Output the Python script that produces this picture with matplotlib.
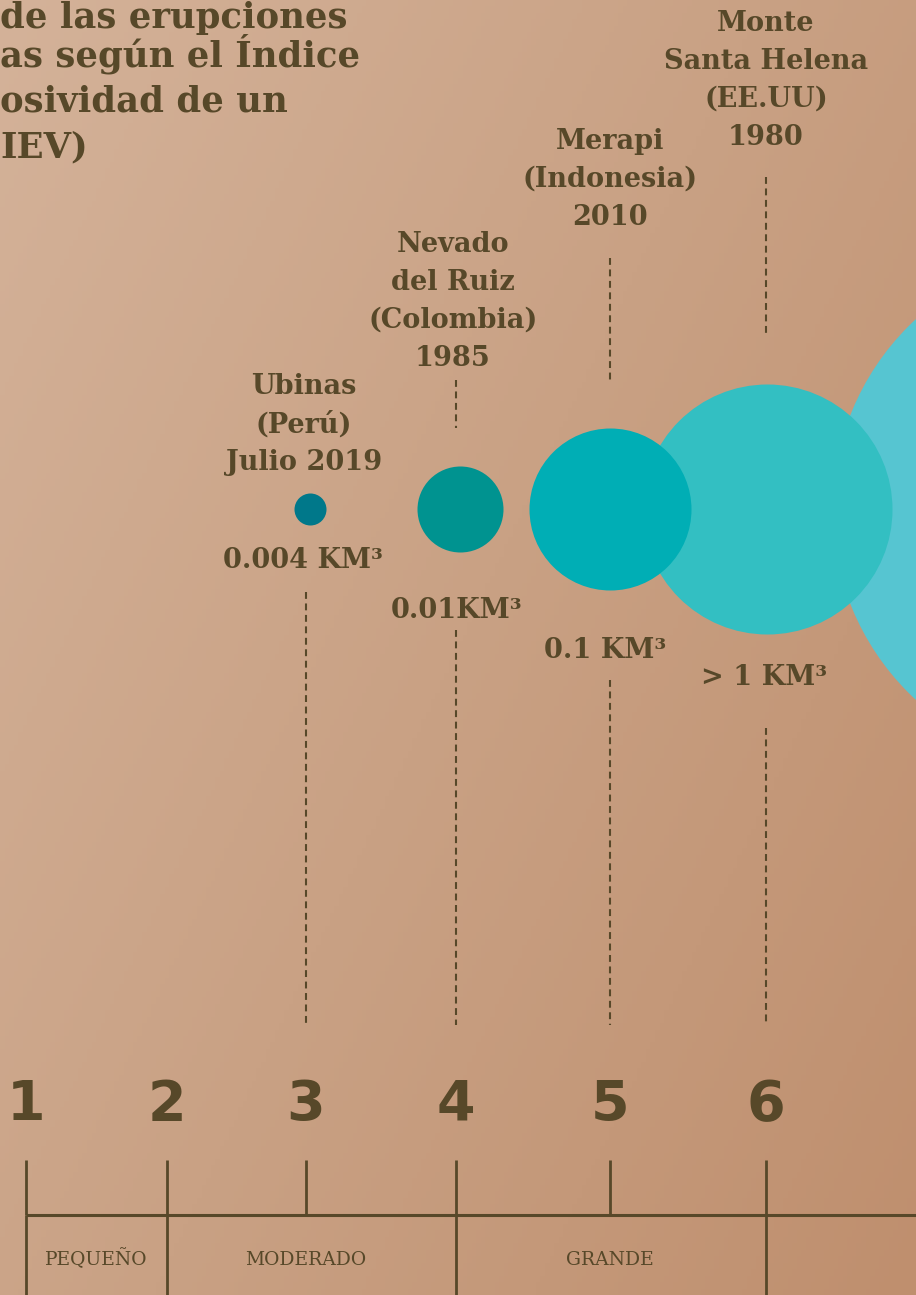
# Escala IEV de erupciones volcanicas, recreated on a kraft paper tone
import numpy as np
import matplotlib.pyplot as plt
from matplotlib.colors import LinearSegmentedColormap

# Data
iev_ticks = [1, 2, 3, 4, 5, 6]
tick_labels = ['1', '2', '3', '4', '5', '6']

categories = ['PEQUEÑO', 'MODERADO', 'GRANDE']
cat_start = [1, 2, 4]
cat_end = [2, 4, 6]

volcanoes = ['Ubinas\n(Perú)\nJulio 2019',
             'Nevado\ndel Ruiz\n(Colombia)\n1985',
             'Merapi\n(Indonesia)\n2010',
             'Monte\nSanta Helena\n(EE.UU)\n1980']
volcano_iev = [3, 4, 5, 6]
volumes = ['0.004 KM³', '0.01KM³', '0.1 KM³', '> 1 KM³']

bubble_iev = [3, 4, 5, 6, 7]

# visible part of the title (the page is cut on the left)
title_lines = ['de las erupciones',
               'as según el Índice',
               'osividad de un',
               'IEV)']

# Layout (page pixels; the IEV scale is not evenly spaced on the page)
tick_px = [26, 167, 306, 456, 610, 766]
bubble_r = [16, 43, 81, 125, 259]
bubble_dx = [4, 4, 0, 1, 169]
bubble_colors = ['#00788A', '#009390', '#00AEB5', '#33BFC2', '#56C5D1']
label_dx = [-2, -3, 0, 0]
label_top = [373, 231, 128, 10]
value_dx = [-3, 1, -5, -2]
value_base = [568, 618, 658, 685]
dash_top = [None, 380, 258, 177]
dash_bot = [None, 428, 382, 333]
low_top = [592, 630, 680, 728]
low_bot = 1025
title_base = [28, 66, 111, 157]

ink = '#574829'


def iev_to_px(v):
    v = np.asarray(v, dtype=float)
    out = np.interp(v, iev_ticks, tick_px)
    left = (tick_px[1] - tick_px[0]) / (iev_ticks[1] - iev_ticks[0])
    right = (tick_px[-1] - tick_px[-2]) / (iev_ticks[-1] - iev_ticks[-2])
    out = np.where(v < iev_ticks[0], tick_px[0] + (v - iev_ticks[0]) * left, out)
    out = np.where(v > iev_ticks[-1], tick_px[-1] + (v - iev_ticks[-1]) * right, out)
    return out


def px_to_iev(p):
    p = np.asarray(p, dtype=float)
    out = np.interp(p, tick_px, iev_ticks)
    left = (tick_px[1] - tick_px[0]) / (iev_ticks[1] - iev_ticks[0])
    right = (tick_px[-1] - tick_px[-2]) / (iev_ticks[-1] - iev_ticks[-2])
    out = np.where(p < tick_px[0], iev_ticks[0] + (p - tick_px[0]) / left, out)
    out = np.where(p > tick_px[-1], iev_ticks[-1] + (p - tick_px[-1]) / right, out)
    return out


def shift(v, dx):
    # move a position by a few page pixels
    return float(px_to_iev(iev_to_px(v) + dx))


fig = plt.figure(figsize=(9.16, 12.95), dpi=100)
ax = fig.add_axes([0, 0, 1, 1])
ax.set_xscale('function', functions=(iev_to_px, px_to_iev))
x0, x1 = float(px_to_iev(0)), float(px_to_iev(916))
ax.set_xlim(x0, x1)
ax.set_ylim(1295, 0)
ax.axis('off')

# paper background: soft diagonal gradient
paper = LinearSegmentedColormap.from_list('paper', ['#D4B299', '#C9A184', '#BF8F6E'])
gx, gy = np.meshgrid(np.linspace(0, 1, 200), np.linspace(0, 1, 200))
bg = fig.add_axes([0, 0, 1, 1], zorder=-1)
bg.imshow(0.6 * gx + 0.4 * gy, cmap=paper, aspect='auto')
bg.axis('off')
ax.patch.set_visible(False)

# bubbles (scatter size in pt^2, radius given in px)
for i, x in enumerate(bubble_iev):
    d_pt = 2 * bubble_r[i] * 72 / fig.dpi
    ax.scatter(shift(x, bubble_dx[i]), 509, s=d_pt ** 2, color=bubble_colors[i],
               linewidths=0, zorder=3 - i * 0.1 if i < 4 else 2)

# dashed guides
dash = (0, (3.3, 2.2))
for i, x in enumerate(volcano_iev):
    if dash_top[i] is not None:
        ax.vlines(x, dash_top[i], dash_bot[i], color=ink, lw=1.5, linestyles=[dash], zorder=1)
    ax.vlines(x, low_top[i], low_bot, color=ink, lw=1.5, linestyles=[dash], zorder=1)

# volcano names and ejected volume
for i, x in enumerate(volcano_iev):
    ax.text(shift(x, label_dx[i]), label_top[i], volcanoes[i], ha='center', va='top',
            family='DejaVu Serif', weight='bold', fontsize=19.5, color=ink,
            linespacing=1.52, zorder=4)
    ax.text(shift(x, value_dx[i]), value_base[i], volumes[i], ha='center', va='baseline',
            family='DejaVu Serif', weight='bold', fontsize=19.5, color=ink, zorder=4)

# title
for line, yb in zip(title_lines, title_base):
    ax.text(x0, yb, line, ha='left', va='baseline',
            family='DejaVu Serif', weight='bold', fontsize=25.5, color=ink, zorder=4)

# IEV numbers
for x, lab in zip(iev_ticks, tick_labels):
    ax.text(x, 1120, lab, ha='center', va='baseline', family='DejaVu Sans',
            weight='bold', fontsize=40, color=ink, zorder=4)

# scale ticks and baseline
ax.vlines(iev_ticks, 1160, 1215, color=ink, lw=2, zorder=4)
ax.hlines(1215, iev_ticks[0], x1, color=ink, lw=2.2, zorder=4)
bounds = sorted(set(cat_start + cat_end))
ax.vlines(bounds, 1215, 1295, color=ink, lw=2, zorder=4)

# category names
for name, a, b in zip(categories, cat_start, cat_end):
    ax.text((a + b) / 2, 1265, name, ha='center', va='baseline', family='DejaVu Serif',
            fontsize=13.5, color=ink, zorder=4)

fig.savefig('out.png', dpi=100)
